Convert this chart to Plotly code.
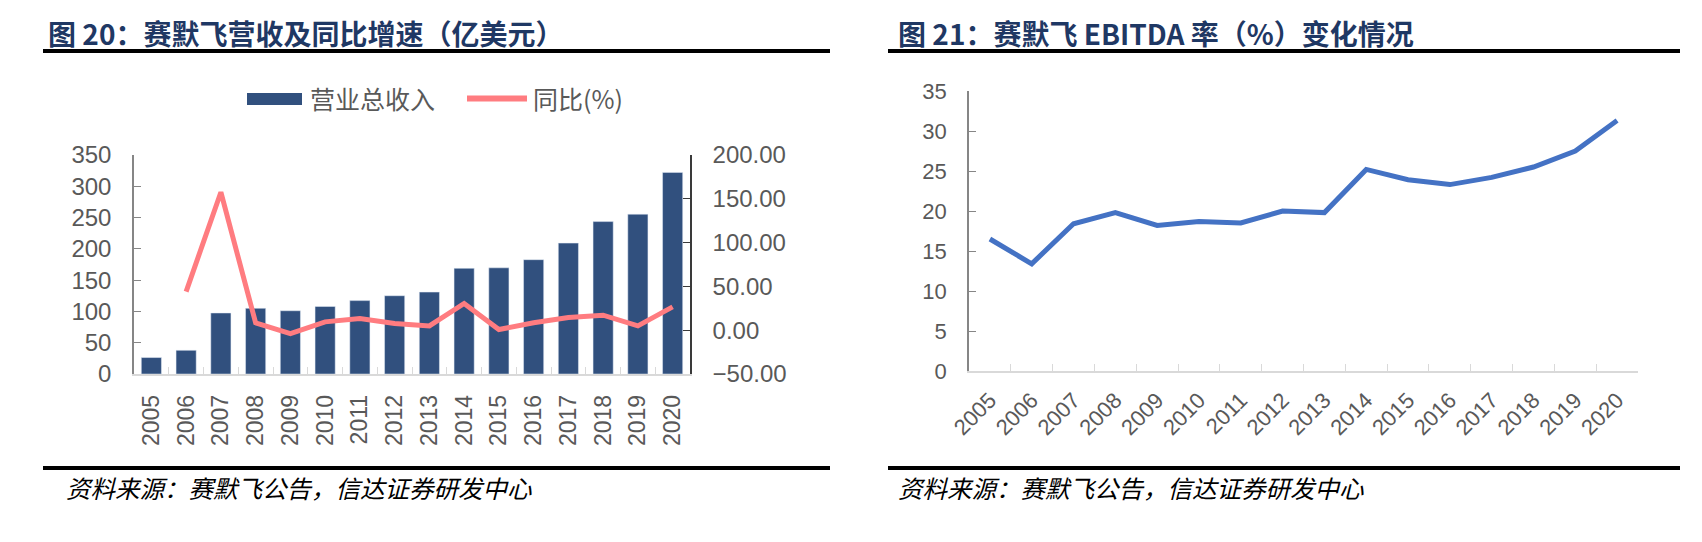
import plotly.graph_objects as go

# ---------------- data ----------------
years = ["2005", "2006", "2007", "2008", "2009", "2010", "2011", "2012",
         "2013", "2014", "2015", "2016", "2017", "2018", "2019", "2020"]
revenue = [26.3, 37.9, 97.5, 105.0, 101.1, 107.9, 117.3, 125.1,
           130.9, 168.9, 169.7, 182.7, 209.2, 243.6, 255.4, 322.2]
growth = [None, 44.1, 157.5, 8.4, -3.8, 9.5, 13.3, 7.6,
          4.9, 30.5, 0.8, 8.5, 14.5, 17.1, 4.9, 26.6]
ebitda = [16.5, 13.4, 18.4, 19.8, 18.2, 18.7, 18.5, 20.0,
          19.8, 25.2, 23.9, 23.3, 24.2, 25.5, 27.5, 31.3]

left_ticks = [0, 50, 100, 150, 200, 250, 300, 350]
right_ticks = [-50, 0, 50, 100, 150, 200]
ebitda_ticks = [0, 5, 10, 15, 20, 25, 30, 35]

title_left = "图 20：赛默飞营收及同比增速（亿美元）"
title_right = "图 21：赛默飞 EBITDA 率（%）变化情况"
source_text = "资料来源：赛默飞公告，信达证券研发中心"
legend_bar = "营业总收入"
legend_line = "同比(%)"

# ---------------- layout helpers ----------------
W, H = 1702, 542
def px(x):
    return x / W
def py(y):
    return 1 - y / H

BAR_COLOR = "#31507E"
PINK = "#FF7C80"
BLUE = "#4472C4"
TICK_COLOR = "#595959"
NUM_FONT = "Liberation Sans, Arial, sans-serif"
CJK_FONT = "Noto Sans CJK SC, sans-serif"
TITLE_COLOR = "#1F3864"

fig = go.Figure()
fig.add_trace(go.Bar(x=years, y=revenue, marker_color=BAR_COLOR, width=0.58,
                     xaxis="x", yaxis="y", name=legend_bar, showlegend=False))
fig.add_trace(go.Scatter(x=years, y=growth, mode="lines", xaxis="x", yaxis="y2",
                         line=dict(color=PINK, width=5), name=legend_line,
                         showlegend=False, connectgaps=False))
fig.add_trace(go.Scatter(x=years, y=ebitda, mode="lines", xaxis="x3", yaxis="y3",
                         line=dict(color=BLUE, width=5), name="EBITDA率",
                         showlegend=False))

common_x = dict(type="category", range=[-0.5, 15.5], showgrid=False, zeroline=False,
                showline=True, linecolor="#D9D9D9", linewidth=1.5, automargin=False,
                ticks="inside", tickson="boundaries", ticklen=7, tickcolor="#D9D9D9",
                tickwidth=1.2)

fig.update_layout(
    width=W, height=H, margin=dict(l=0, r=0, t=0, b=0, autoexpand=False),
    paper_bgcolor="white", plot_bgcolor="white", showlegend=False,
    bargap=0.42,
    xaxis=dict(**common_x, domain=[px(134), px(690)], anchor="y", tickangle=-90,
               tickfont=dict(family=NUM_FONT, size=23, color=TICK_COLOR),
               ticklabelstandoff=10),
    yaxis=dict(domain=[py(374), py(155)], anchor="x", range=[0, 350],
               tickvals=left_ticks, showgrid=False, zeroline=False, automargin=False,
               showline=True, linecolor="#868686", linewidth=1.5,
               ticks="inside", ticklen=7, tickcolor="#868686",
               tickfont=dict(family=NUM_FONT, size=24, color=TICK_COLOR),
               ticklabelstandoff=16),
    yaxis2=dict(overlaying="y", side="right", anchor="x", range=[-50, 200],
                tickvals=right_ticks, tickformat=".2f", showgrid=False, zeroline=False,
                automargin=False,
                showline=True, linecolor="#3A3A3A", linewidth=1.5,
                ticks="inside", ticklen=7, tickcolor="#3A3A3A",
                tickfont=dict(family=NUM_FONT, size=24, color=TICK_COLOR),
                ticklabelstandoff=16),
    xaxis3=dict(**common_x, domain=[px(969), px(1638)], anchor="y3", tickangle=-45,
                tickfont=dict(family=NUM_FONT, size=22, color=TICK_COLOR),
                ticklabelstandoff=6),
    yaxis3=dict(domain=[py(371), py(91)], anchor="x3", range=[0, 35],
                tickvals=ebitda_ticks, showgrid=False, zeroline=False, automargin=False,
                showline=True, linecolor="#868686", linewidth=1.5,
                ticks="inside", ticklen=7, tickcolor="#868686",
                tickfont=dict(family=NUM_FONT, size=22, color=TICK_COLOR),
                ticklabelstandoff=16),
)

shapes = []
# header / footer rules
for x0, x1 in [(43, 830), (888, 1680)]:
    for y in (51, 468):
        shapes.append(dict(type="line", xref="paper", yref="paper",
                           x0=px(x0), x1=px(x1), y0=py(y), y1=py(y),
                           line=dict(color="black", width=4)))
# custom legend swatches
shapes.append(dict(type="rect", xref="paper", yref="paper",
                   x0=px(247), x1=px(302), y0=py(105), y1=py(93),
                   fillcolor=BAR_COLOR, line=dict(width=0)))
shapes.append(dict(type="line", xref="paper", yref="paper",
                   x0=px(467), x1=px(527), y0=py(98.5), y1=py(98.5),
                   line=dict(color=PINK, width=6)))
fig.update_layout(shapes=shapes)

ann = []
ann.append(dict(text="<b>" + title_left + "</b>", x=px(46), y=py(33), xref="paper", yref="paper",
                xanchor="left", yanchor="middle", showarrow=False,
                font=dict(family=CJK_FONT, size=28, color=TITLE_COLOR)))
ann.append(dict(text="<b>" + title_right + "</b>", x=px(896), y=py(33), xref="paper", yref="paper",
                xanchor="left", yanchor="middle", showarrow=False,
                font=dict(family=CJK_FONT, size=28, color=TITLE_COLOR)))
for x in (64, 896):
    ann.append(dict(text="<i>" + source_text + "</i>", x=px(x), y=py(487), xref="paper", yref="paper",
                    xanchor="left", yanchor="middle", showarrow=False,
                    font=dict(family=CJK_FONT, size=24.5, color="black")))
ann.append(dict(text=legend_bar, x=px(308), y=py(98), xref="paper", yref="paper",
                xanchor="left", yanchor="middle", showarrow=False,
                font=dict(family=CJK_FONT, size=25, color=TICK_COLOR)))
ann.append(dict(text=legend_line, x=px(531), y=py(98), xref="paper", yref="paper",
                xanchor="left", yanchor="middle", showarrow=False,
                font=dict(family=CJK_FONT, size=25, color=TICK_COLOR)))
fig.update_layout(annotations=ann)

fig.write_html("out.html", config={"displayModeBar": False},
               post_script="document.body.style.margin='0';document.body.style.padding='0';")
